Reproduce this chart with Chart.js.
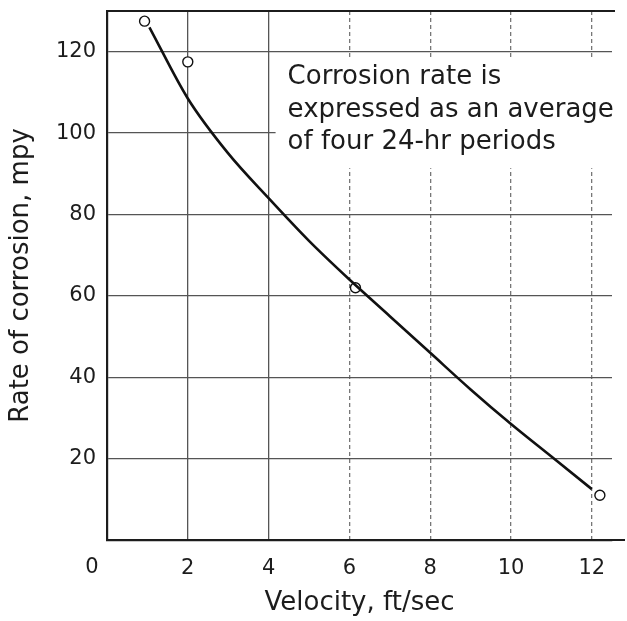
<!DOCTYPE html>
<html>
<head>
<meta charset="utf-8">
<script src="https://cdn.jsdelivr.net/npm/chart.js@4"></script>
<style>
  html, body { margin: 0; padding: 0; background: #fff; }
</style>
</head>
<body>
<canvas id="chart" width="627" height="621"></canvas>
<script>
// measured points: velocity (ft/sec) and corrosion rate (mpy)
const pointVelocity = [0.93, 2, 6.15, 12.2];
const pointRate = [127.5, 117.5, 62, 11];
// faired curve drawn through the measurements
const curveVelocity = [1.05, 2, 3, 4, 5, 6, 7, 8, 9, 10, 11, 12];
const curveRate = [126, 108.5, 95, 84, 73.5, 64, 55, 46, 37, 28.5, 20.5, 12.5];
const xTicks = [0, 2, 4, 6, 8, 10, 12];
const yTicks = [0, 20, 40, 60, 80, 100, 120];
const noteLines = ['Corrosion rate is', 'expressed as an average', 'of four 24-hr periods'];

const ink = '#1c1c1c';
const face = '"DejaVu Sans", sans-serif';

function toXY(xs, ys) {
    return xs.map((v, i) => ({ x: v, y: ys[i] }));
}

// white box + note text, origin "0", top frame line
const paperPlugin = {
    id: 'paper',
    beforeDatasetsDraw(chart) {
        const { ctx, scales: { x, y } } = chart;
        ctx.save();
        ctx.font = '26px ' + face;
        const lineH = 32.5;
        const tx = x.getPixelForValue(4.47);
        const ty = y.getPixelForValue(113.6);
        let w = 0;
        noteLines.forEach(t => { w = Math.max(w, ctx.measureText(t).width); });
        ctx.fillStyle = '#fff';
        ctx.fillRect(tx - 12, ty - 19, w + 30, lineH * noteLines.length + 12);
        ctx.fillStyle = ink;
        ctx.textBaseline = 'middle';
        noteLines.forEach((t, i) => ctx.fillText(t, tx, ty + i * lineH));
        ctx.restore();
    },
    afterDraw(chart) {
        const { ctx, chartArea: a } = chart;
        ctx.save();
        ctx.strokeStyle = ink;
        ctx.lineWidth = 2;
        ctx.beginPath();
        ctx.moveTo(a.left, a.top);
        ctx.lineTo(a.right + 3, a.top);
        ctx.moveTo(a.right, a.bottom);
        ctx.lineTo(chart.width - 2, a.bottom);
        ctx.stroke();
        ctx.font = '21px ' + face;
        ctx.fillStyle = ink;
        ctx.textAlign = 'center';
        ctx.textBaseline = 'middle';
        ctx.fillText('0', a.left - 15, a.bottom + 28);
        ctx.restore();
    }
};

new Chart(document.getElementById('chart'), {
    type: 'scatter',
    data: {
        datasets: [
            {
                label: 'curve',
                data: toXY(curveVelocity, curveRate),
                showLine: true,
                cubicInterpolationMode: 'monotone',
                borderColor: '#111',
                borderWidth: 2.6,
                pointRadius: 0,
                fill: false
            },
            {
                label: 'measured',
                data: toXY(pointVelocity, pointRate),
                showLine: false,
                pointRadius: 5,
                pointBorderWidth: 1.4,
                pointBorderColor: '#111',
                pointBackgroundColor: '#fff'
            }
        ]
    },
    options: {
        responsive: false,
        animation: false,
        layout: { padding: { top: 11, right: 15, left: 0, bottom: 0 } },
        plugins: {
            legend: { display: false },
            tooltip: { enabled: false }
        },
        scales: {
            x: {
                type: 'linear',
                min: 0,
                max: 12.5,
                afterBuildTicks: s => { s.ticks = xTicks.map(v => ({ value: v })); },
                afterFit: s => { s.height = 81; },
                grid: {
                    drawTicks: false,
                    color: ctx => ctx.tick && ctx.tick.value === 0 ? 'rgba(0,0,0,0)' : (ctx.tick && ctx.tick.value <= 4 ? '#555' : '#777'),
                    lineWidth: 1.3
                },
                border: {
                    color: ink,
                    width: 2.2,
                    dash: ctx => ctx.tick && ctx.tick.value >= 6 ? [4, 3] : []
                },
                ticks: {
                    color: ink,
                    padding: 16,
                    font: { family: face, size: 21 },
                    callback: v => v === 0 ? '' : v
                },
                title: {
                    display: true,
                    text: 'Velocity, ft/sec',
                    color: ink,
                    font: { family: face, size: 26 },
                    padding: { top: 0, bottom: 2 }
                }
            },
            y: {
                type: 'linear',
                min: 0,
                max: 130,
                afterBuildTicks: s => { s.ticks = yTicks.map(v => ({ value: v })); },
                afterFit: s => { s.width = 107; s.paddingTop = 0; s.paddingBottom = 0; },
                grid: {
                    drawTicks: false,
                    color: ctx => ctx.tick && ctx.tick.value === 0 ? 'rgba(0,0,0,0)' : '#555',
                    lineWidth: 1.3
                },
                border: { color: ink, width: 2.2 },
                ticks: {
                    color: ink,
                    padding: 11,
                    font: { family: face, size: 21 },
                    callback: v => v === 0 ? '' : v
                },
                title: {
                    display: true,
                    text: 'Rate of corrosion, mpy',
                    color: ink,
                    font: { family: face, size: 26 },
                    padding: { top: 6, bottom: 0 }
                }
            }
        }
    },
    plugins: [paperPlugin]
});
</script>
</body>
</html>
